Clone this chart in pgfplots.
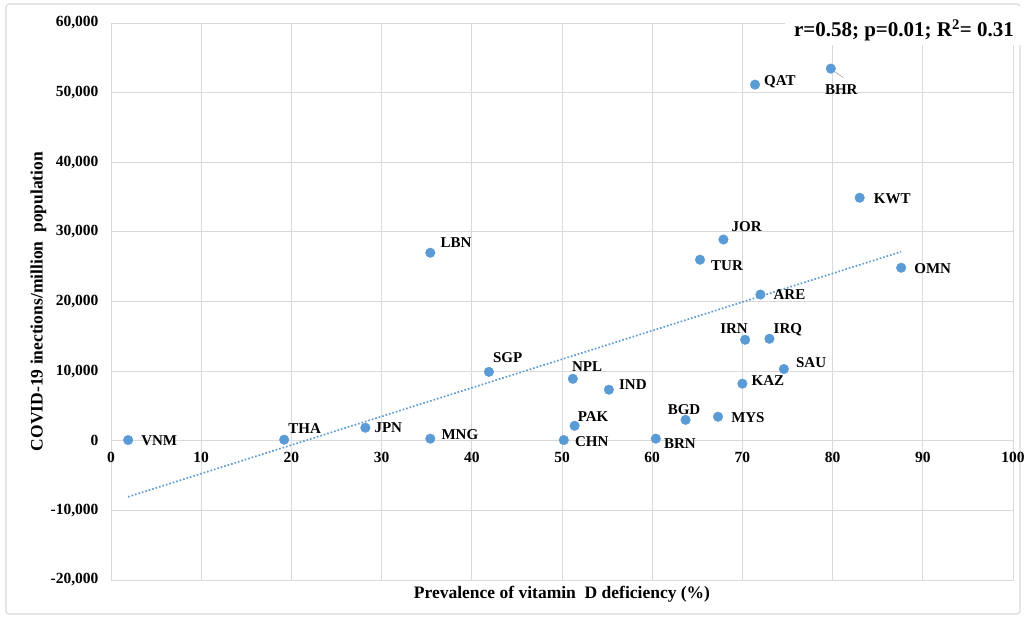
\documentclass[border=0pt]{standalone}
\usepackage{fontspec}
\setmainfont{Liberation Serif}
\usepackage{pgfplots}
\pgfplotsset{compat=1.18}
\usepackage{pgfplotstable}
\definecolor{ptblue}{RGB}{91,155,213}
\definecolor{gridgray}{RGB}{217,217,217}

\pgfplotstableread{
x y lab dx dy
1.9 100 VNM 13 -1
19.2 150 THA 4 11
28.2 1870 JPN 9 0
35.4 300 MNG 11 4
35.4 27000 LBN 10 10
41.9 9900 SGP 4 14
51.2 8900 NPL -1 12
55.2 7330 IND 10 5
51.4 2150 PAK 3 9
50.2 100 CHN 11 -2
60.4 300 BRN 8 -5
63.7 3000 BGD -18 10
67.3 3450 MYS 13 -1
70.0 8200 KAZ 9 3
70.3 14500 IRN -25 11
73.0 14650 IRQ 4 9
74.6 10300 SAU 12 6
72.0 21000 ARE 13 0
65.3 26000 TUR 11 -6
67.9 28900 JOR 8 13
71.4 51150 QAT 9 3
79.8 53450 BHR -6 -21
83.0 34900 KWT 14 -1
87.6 24850 OMN 13 -1
}\pts

\begin{document}
\begin{tikzpicture}
\useasboundingbox (-111pt,-40pt) rectangle (914pt,580pt);
\draw[gridgray, line width=1.2pt, rounded corners=3pt] (-105pt,-34pt) rectangle (909pt,576pt);
\begin{axis}[
  at={(0pt,0pt)}, anchor=south west,
  scale only axis, width=902pt, height=557pt,
  xmin=0, xmax=100, ymin=-20000, ymax=60000,
  xtick={0,10,...,100},
  ytick={-20000,-10000,0,10000,20000,30000,40000,50000,60000},
  yticklabels={{-20,000},{-10,000},0,{10,000},{20,000},{30,000},{40,000},{50,000},{60,000}},
  scaled y ticks=false, scaled x ticks=false,
  axis line style={gridgray, line width=0.9pt},
  grid=major, major grid style={gridgray, line width=0.9pt},
  major tick length=0pt,
  tick label style={font=\fontsize{15.5}{15.5}\selectfont\bfseries},
  /pgf/number format/assume math mode=true,
  xticklabel style={yshift=131pt},
  yticklabel style={xshift=-9pt},
  every axis x label/.style={at={(rel axis cs:0.5,0)}, anchor=north, yshift=-3pt},
  every axis y label/.style={at={(rel axis cs:0,0.5)}, rotate=90, anchor=south, yshift=61pt},
  xlabel={\fontsize{17.5}{17.5}\selectfont\bfseries Prevalence of vitamin~ D deficiency (\%)},
  ylabel={\fontsize{17.5}{17.5}\selectfont\bfseries COVID-19 inections/million~ population},
  clip=false,
]
\addplot[ptblue, line width=1.7pt, dash pattern=on 1.6pt off 2pt] coordinates {(1.9,-8050) (87.6,27150)};
\draw[gray!70, line width=0.6pt] (axis cs:79.9,53300) -- (axis cs:81.2,52150);
\addplot[only marks, mark=*, mark size=4.8pt, color=ptblue,
  point meta=explicit symbolic,
  visualization depends on={\thisrow{dx} \as \dx},
  visualization depends on={\thisrow{dy} \as \dy},
  nodes near coords,
  nodes near coords style={anchor=west, xshift=\dx pt, yshift=\dy pt, inner sep=0pt,
    text=black, font=\fontsize{15}{15}\selectfont\bfseries},
] table[x=x, y=y, meta=lab] {\pts};
\fill[white] (rel axis cs:0.747,0.96) rectangle (rel axis cs:1.01,1.03);
\node[anchor=west, inner sep=0pt] at (rel axis cs:0.757,0.987)
  {\fontsize{21}{21}\selectfont\bfseries r=0.58; p=0.01; R\textsuperscript{2}= 0.31};
\end{axis}
\end{tikzpicture}
\end{document}
